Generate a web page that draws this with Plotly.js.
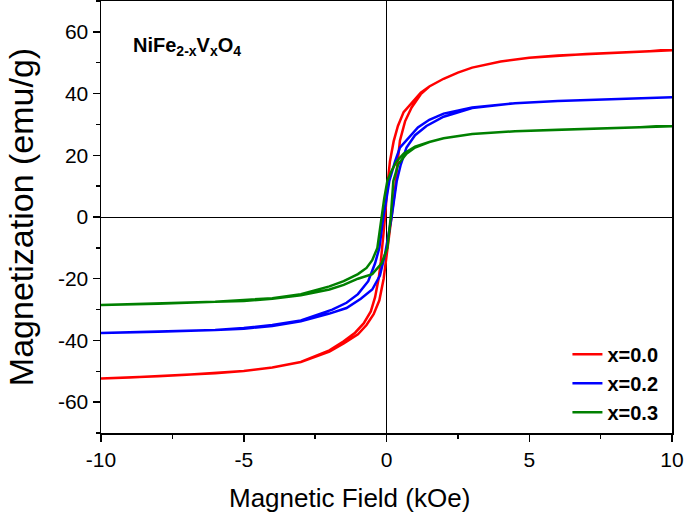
<!DOCTYPE html>
<html>
<head>
<meta charset="utf-8">
<script src="https://cdn.plot.ly/plotly-3.0.1.min.js"></script>
<style>
  body { margin: 0; background: #fff; }
  #loop { width: 685px; height: 519px; }
</style>
</head>
<body>
<div id="loop"></div>
<script>
// hysteresis loops: field (kOe) vs magnetization (emu/g)
// each loop = descending branch (+10 -> -10) followed by ascending branch (-10 -> +10)

var H_x00 = [10, 9, 8, 7, 6, 5, 4, 3, 2.5, 2, 1.5, 1.2, 0.9, 0.6, 0.4, 0.25, 0.12, 0.03, -0.05, -0.13, -0.2, -0.27, -0.4, -0.55, -0.8, -1.1, -1.5, -2, -3, -4, -5, -6, -7, -8, -9, -10,
             -9, -8, -7, -6, -5, -4, -3, -2, -1.5, -1.0, -0.7, -0.45, -0.25, -0.1, 0.03, 0.13, 0.22, 0.3, 0.38, 0.47, 0.65, 0.88, 1.2, 1.5, 2, 2.5, 3, 4, 5, 6, 7, 8, 9, 10];
var M_x00 = [54.0, 53.6, 53.2, 52.8, 52.3, 51.6, 50.4, 48.4, 46.8, 44.8, 42.3, 40.3, 37.3, 34.0, 29.5, 24.5, 18.0, 10.0, 0, -8.9, -14.5, -19.7, -26.0, -30.6, -34.5, -37.5, -40.3, -43.2, -47.0, -48.8, -49.9, -50.6, -51.1, -51.6, -52.0, -52.3,
             -52.0, -51.6, -51.1, -50.6, -49.9, -48.8, -47.0, -43.6, -41.0, -38.0, -35.0, -31.5, -27.0, -20.0, -11.0, -4.0, 2.0, 9.0, 17.0, 24.7, 31.0, 35.5, 39.8, 42.3, 44.8, 46.8, 48.4, 50.4, 51.6, 52.3, 52.8, 53.2, 53.6, 54.0];

var H_x02 = [10, 8, 6, 4.5, 3, 2, 1.5, 1.1, 0.7, 0.47, 0.3, 0.1, 0, -0.11, -0.25, -0.4, -0.64, -1.0, -1.4, -1.9, -3, -4, -5, -6, -8, -10,
             -8, -6, -5, -4, -3, -2, -1.4, -0.9, -0.5, -0.23, -0.05, 0.03, 0.18, 0.36, 0.5, 0.7, 1.0, 1.4, 2, 3, 4.5, 6, 8, 10];
var M_x02 = [38.8, 38.3, 37.6, 36.9, 35.5, 33.5, 31.5, 29.0, 25.0, 22.5, 18.0, 11.7, 6.0, 0, -10.0, -15.0, -20.8, -25.0, -27.8, -30.0, -33.5, -35.0, -36.0, -36.6, -37.2, -37.6,
             -37.2, -36.6, -36.2, -35.3, -33.8, -31.3, -29.5, -26.5, -23.5, -19.0, -12.0, -8.0, 0, 11.7, 17.0, 22.5, 26.5, 29.5, 32.5, 35.3, 36.9, 37.6, 38.3, 38.8];

var H_x03 = [10, 8, 6, 4.5, 3, 2, 1.5, 1.0, 0.6, 0.35, 0.18, 0.03, -0.08, -0.17, -0.32, -0.5, -0.7, -1.0, -1.5, -2, -3, -4, -5, -6, -8, -10,
             -8, -6, -5, -4, -3, -2, -1.5, -1.0, -0.5, -0.17, 0.03, 0.15, 0.24, 0.41, 0.7, 1.0, 1.5, 2, 3, 4.5, 6, 8, 10];
var M_x03 = [29.4, 28.8, 28.3, 27.8, 26.9, 25.5, 24.3, 22.8, 20.5, 18.0, 15.0, 11.7, 6.0, 0, -10.0, -14.0, -16.5, -18.5, -20.8, -22.5, -25.0, -26.3, -27.0, -27.5, -28.1, -28.5,
             -28.1, -27.5, -27.2, -26.5, -25.4, -23.5, -22.0, -20.0, -18.5, -15.0, -10.0, 0, 11.7, 17.1, 20.5, 22.5, 24.3, 25.5, 26.9, 27.8, 28.3, 28.8, 29.4];

var seriesNames = ['x=0.0', 'x=0.2', 'x=0.3'];
var seriesColors = ['#ff0000', '#0000ff', '#008000'];

// tick labels, plain hyphen minus like the original
var xTickVals = [-10, -5, 0, 5, 10];
var xTickText = ['-10', '-5', '0', '5', '10'];
var yTickVals = [-60, -40, -20, 0, 20, 40, 60];
var yTickText = ['-60', '-40', '-20', '0', '20', '40', '60'];

var xs = [H_x00, H_x02, H_x03];
var ys = [M_x00, M_x02, M_x03];

var traces = [];
for (var i = 0; i < 3; i++) {
  traces.push({
    x: xs[i], y: ys[i],
    type: 'scatter', mode: 'lines',
    name: seriesNames[i],
    line: {color: seriesColors[i], width: 2.5}
  });
}

var fnt = 'Liberation Sans, Arial, sans-serif';

var layout = {
  width: 685, height: 519,
  margin: {l: 101, r: 13, t: 1, b: 86},
  paper_bgcolor: '#fff', plot_bgcolor: '#fff',
  font: {family: fnt, color: '#000'},
  showlegend: true,
  legend: {
    x: 0.985, xanchor: 'right', y: 0.003, yanchor: 'bottom',
    bgcolor: 'rgba(0,0,0,0)',
    font: {family: fnt, size: 20, color: '#000', weight: 'bold'},
    tracegroupgap: 0
  },
  xaxis: {
    range: [-10, 10], tickmode: 'array', tickvals: xTickVals, ticktext: xTickText,
    showline: true, linecolor: '#000', linewidth: 1.5, mirror: true,
    ticks: 'outside', ticklen: 7, tickwidth: 1.5, tickcolor: '#000',
    minor: {ticks: 'outside', tickmode: 'linear', tick0: -10, dtick: 2.5, ticklen: 4, tickwidth: 1.5, tickcolor: '#000'},
    showgrid: false,
    zeroline: true, zerolinecolor: '#000', zerolinewidth: 1,
    tickfont: {size: 21}
  },
  yaxis: {
    range: [-70, 70], tickmode: 'array', tickvals: yTickVals, ticktext: yTickText,
    showline: true, linecolor: '#000', linewidth: 1.5, mirror: true,
    ticks: 'outside', ticklen: 7, tickwidth: 1.5, tickcolor: '#000',
    minor: {ticks: 'outside', tickmode: 'linear', tick0: 0, dtick: 10, ticklen: 4, tickwidth: 1.5, tickcolor: '#000'},
    showgrid: false,
    zeroline: true, zerolinecolor: '#000', zerolinewidth: 1,
    tickfont: {size: 21},
    title: {text: 'Magnetization (emu/g)', font: {size: 34}, standoff: 14}
  },
  annotations: [{
    xref: 'paper', yref: 'paper',
    x: 0.052, y: 0.895, xanchor: 'left', yanchor: 'middle',
    showarrow: false,
    text: '<b>NiFe<sub>2-x</sub>V<sub>x</sub>O<sub>4</sub></b>',
    font: {family: fnt, size: 20, color: '#000'}
  }, {
    // x title sits left of centre in the original, so it is placed by hand
    xref: 'paper', yref: 'paper',
    x: -0.065, y: -0.15, xanchor: 'center', yanchor: 'middle',
    showarrow: false,
    text: 'Magnetic Field (kOe)',
    font: {family: fnt, size: 26, color: '#000'}
  }]
};
// centre of the x title at ~349 px
layout.annotations[1].x = (349 - 101) / 571;

Plotly.newPlot('loop', traces, layout, {displayModeBar: false, staticPlot: true});
</script>
</body>
</html>
